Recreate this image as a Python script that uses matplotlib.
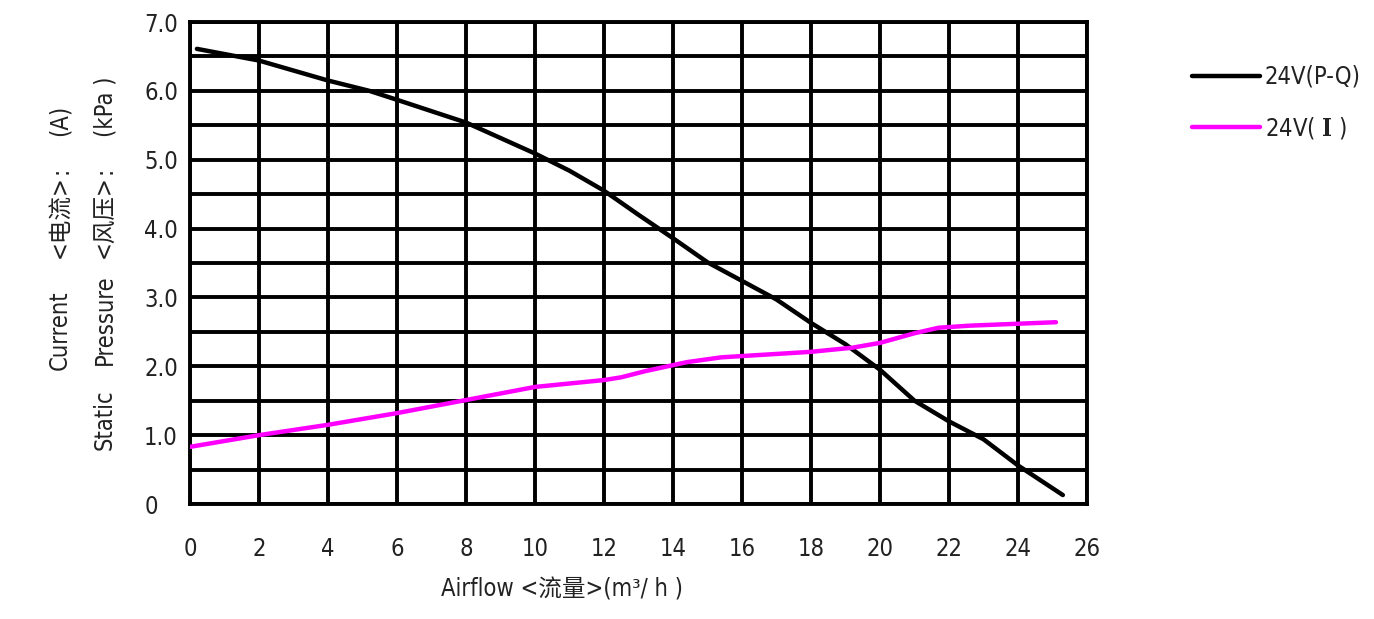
import matplotlib.pyplot as plt

# P-Q curve (static pressure, kPa) and current curve (A)
pq_flow = [0.2, 2, 4, 5.2, 6, 8, 10, 11, 12, 13, 14, 15, 16, 17, 18, 19, 20, 21, 22, 23, 24, 25.3]
pq_press = [6.61, 6.44, 6.15, 6.0, 5.87, 5.54, 5.09, 4.84, 4.55, 4.20, 3.86, 3.51, 3.24, 2.97,
            2.63, 2.32, 1.95, 1.50, 1.20, 0.94, 0.56, 0.13]

i_flow = [0, 2, 4, 6, 8, 10, 12, 12.5, 13.2, 14.4, 15.4, 18, 19.2, 20, 21, 21.7, 22.6, 25.1]
i_amp = [0.83, 1.0, 1.15, 1.32, 1.51, 1.70, 1.80, 1.84, 1.93, 2.06, 2.13, 2.21, 2.27, 2.34,
         2.48, 2.56, 2.59, 2.64]

xticks = list(range(0, 27, 2))
yticks = [0, 1, 2, 3, 4, 5, 6, 7]
ytick_labels = ['0', '1.0', '2.0', '3.0', '4.0', '5.0', '6.0', '7.0']

plt.rcParams['font.family'] = ['DejaVu Sans', 'Noto Sans CJK SC']
plt.rcParams['font.stretch'] = 'condensed'
plt.rcParams['mathtext.fontset'] = 'dejavuserif'
txt = '#222222'

fig = plt.figure(figsize=(13.74, 6.19), dpi=100)
ax = fig.add_axes([190 / 1374, 1 - 504 / 619, 897 / 1374, 482 / 619])

ax.plot(pq_flow, pq_press, color='black', lw=3.2, solid_capstyle='round',
        solid_joinstyle='round', label='24V(P-Q)', zorder=3)
ax.plot(i_flow, i_amp, color='#ff00ff', lw=3.2, solid_capstyle='round',
        solid_joinstyle='round', label=r'24V( $\mathbf{I}$ )', zorder=3)

ax.set_xlim(0, 26)
ax.set_ylim(0, 7)
ax.set_xticks(xticks)
ax.set_yticks(yticks)
ax.set_yticklabels(ytick_labels, ha='left')
ax.set_yticks([k * 0.5 for k in range(15)], minor=True)
ax.grid(True, which='major', color='black', lw=2.8)
ax.grid(True, which='minor', axis='y', color='black', lw=2.8)
ax.set_axisbelow(True)
for s in ax.spines.values():
    s.set_linewidth(2.8)
ax.tick_params(which='both', length=0)
ax.tick_params(axis='x', pad=24, labelsize=17, colors=txt)
ax.tick_params(axis='y', pad=33, labelsize=17, colors=txt)

fig.text(562 / 1374, 1 - 590 / 619, 'Airflow <流量>(m³/ h )', ha='center', va='center',
         fontsize=17, color=txt)

# y axis title, two rotated columns
col2 = [('Static', 420), ('Pressure', 320), ('<风压>', 217), (':', 170), ('(kPa )', 107)]
col1 = [('Current', 330), ('<电流>', 217), (':', 170), ('(A)', 120)]
for s, yp in col2:
    fig.text(105 / 1374, 1 - yp / 619, s, rotation=90, ha='center', va='center',
             fontsize=17, color=txt)
for s, yp in col1:
    fig.text(60 / 1374, 1 - yp / 619, s, rotation=90, ha='center', va='center',
             fontsize=17, color=txt)

leg = ax.legend(loc='upper left', bbox_to_anchor=(1180 / 1374, 1 - 53 / 619),
                bbox_transform=fig.transFigure, frameon=False, fontsize=17,
                handlelength=2.9, handletextpad=0.2, labelspacing=1.1, borderpad=0)
for t in leg.get_texts():
    t.set_color(txt)

fig.savefig('out.png', dpi=100)
